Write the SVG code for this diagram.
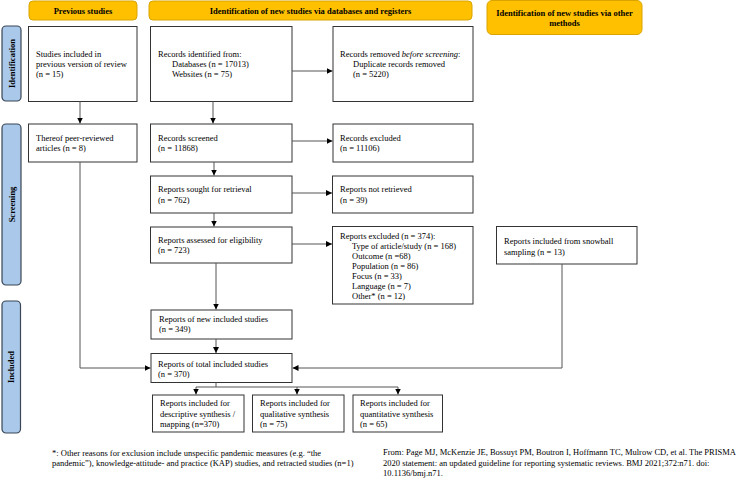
<svg xmlns="http://www.w3.org/2000/svg" width="737" height="478" viewBox="0 0 737 478">
<defs>
<marker id="ah" markerUnits="userSpaceOnUse" markerWidth="6" markerHeight="6" viewBox="0 0 6 6" refX="6" refY="3" orient="auto">
<path d="M0,0 L6,3 L0,6 Z" fill="#000"/>
</marker>
<style>
text{font-family:"Liberation Serif","Times New Roman",serif;font-size:8.5px;fill:#000}
.hd{font-weight:bold;text-anchor:middle}
.hdbox{fill:#FFC000;stroke:#D9A400;stroke-width:1}
.side{fill:#A9C8EA;stroke:#3A4654;stroke-width:1.2}
.sl{font-weight:bold;text-anchor:middle}
.box{fill:#fff;stroke:#333;stroke-width:1}
.con{fill:none;stroke:#555;stroke-width:1}
.arr{marker-end:url(#ah)}
</style>
</defs>
<rect width="737" height="478" fill="#fff"/>

<g id="hdr-prev"><rect class="hdbox" x="29" y="1" width="108" height="19" rx="4"/><text class="hd" x="83" y="14">Previous studies</text></g>
<g id="hdr-db"><rect class="hdbox" x="149" y="1" width="323" height="19" rx="4"/><text class="hd" x="310.5" y="14">Identification of new studies via databases and registers</text></g>
<g id="hdr-other"><rect class="hdbox" x="487" y="0.5" width="155" height="34" rx="5"/><text class="hd" x="564.5" y="16">Identification of new studies via other</text><text class="hd" x="564.5" y="26">methods</text></g>

<g id="side-ident"><rect class="side" x="2" y="26" width="19" height="75" rx="4"/><text class="sl" transform="translate(14.5,63.5) rotate(-90)">Identification</text></g>
<g id="side-screen"><rect class="side" x="2" y="124" width="19" height="161" rx="4"/><text class="sl" transform="translate(14.5,204.5) rotate(-90)">Screening</text></g>
<g id="side-incl"><rect class="side" x="2" y="301" width="18.5" height="132" rx="4"/><text class="sl" transform="translate(14.3,367) rotate(-90)">Included</text></g>

<g id="n-prev"><rect class="box" x="28.5" y="26.5" width="108.5" height="75"/><text x="36" y="57">Studies included in</text><text x="36" y="67">previous version of review</text><text x="36" y="77">(n = 15)</text></g>
<g id="n-ident"><rect class="box" x="150.5" y="26.5" width="141.5" height="75"/><text x="158" y="57">Records identified from:</text><text x="172" y="67">Databases (n = 17013)</text><text x="172" y="77">Websites (n = 75)</text></g>
<g id="n-removed"><rect class="box" x="333" y="26.5" width="140" height="75"/><text x="340" y="57">Records removed <tspan font-style="italic">before screening</tspan>:</text><text x="353" y="67">Duplicate records removed</text><text x="353" y="77">(n = 5220)</text></g>

<g id="n-thereof"><rect class="box" x="28.5" y="124" width="108.5" height="38"/><text x="36" y="141">Thereof peer-reviewed</text><text x="36" y="151">articles (n = 8)</text></g>
<g id="n-screened"><rect class="box" x="150.5" y="124" width="141.5" height="38"/><text x="158" y="141">Records screened</text><text x="158" y="151">(n = 11868)</text></g>
<g id="n-excluded"><rect class="box" x="333" y="124" width="140" height="38"/><text x="340" y="141">Records excluded</text><text x="340" y="151">(n = 11106)</text></g>

<g id="n-sought"><rect class="box" x="150.5" y="176" width="141.5" height="37"/><text x="158" y="192">Reports sought for retrieval</text><text x="158" y="203">(n = 762)</text></g>
<g id="n-notret"><rect class="box" x="332.5" y="176" width="140.5" height="37"/><text x="340" y="192">Reports not retrieved</text><text x="340" y="203">(n = 39)</text></g>

<g id="n-assessed"><rect class="box" x="150.5" y="227" width="141.5" height="36"/><text x="158" y="243">Reports assessed for eligibility</text><text x="158" y="253">(n = 723)</text></g>
<g id="n-repexcl"><rect class="box" x="332.5" y="226.5" width="140.5" height="77.5"/><text x="340" y="239">Reports excluded (n = 374):</text><text x="352" y="249">Type of article/study (n = 168)</text><text x="352" y="259">Outcome (n =68)</text><text x="352" y="269">Population (n = 86)</text><text x="352" y="279">Focus (n = 33)</text><text x="352" y="289">Language (n = 7)</text><text x="352" y="298.5">Other* (n = 12)</text></g>
<g id="n-snowball"><rect class="box" x="496.5" y="226.5" width="140.5" height="37.5"/><text x="504" y="244">Reports included from snowball</text><text x="504" y="255">sampling (n = 13)</text></g>

<g id="n-new"><rect class="box" x="151" y="310" width="141" height="29"/><text x="159" y="322">Reports of new included studies</text><text x="159" y="332">(n = 349)</text></g>
<g id="n-total"><rect class="box" x="151" y="353.5" width="141" height="29"/><text x="158" y="367">Reports of total included studies</text><text x="158" y="377">(n = 370)</text></g>

<g id="n-desc"><rect class="box" x="152.5" y="395" width="91.5" height="37"/><text x="160" y="406">Reports included for</text><text x="160" y="416.5">descriptive synthesis /</text><text x="160" y="427">mapping (n=370)</text></g>
<g id="n-qual"><rect class="box" x="252.5" y="395" width="91.5" height="37"/><text x="260" y="406">Reports included for</text><text x="260" y="416.5">qualitative synthesis</text><text x="260" y="427">(n = 75)</text></g>
<g id="n-quant"><rect class="box" x="353" y="395" width="89.5" height="37"/><text x="360" y="406">Reports included for</text><text x="360" y="416.5">quantitative synthesis</text><text x="360" y="427">(n = 65)</text></g>

<g id="connectors">
<path class="con arr" d="M80,101.5 V123.5"/>
<path class="con arr" d="M213,101.5 V123.5"/>
<path class="con arr" d="M292,71 H332.5"/>
<path class="con arr" d="M292,141 H332.5"/>
<path class="con arr" d="M214,162 V175.5"/>
<path class="con arr" d="M292,193 H332"/>
<path class="con arr" d="M214,213 V226.5"/>
<path class="con arr" d="M292,244 H332"/>
<path class="con arr" d="M216,263 V309.5"/>
<path class="con arr" d="M216,339 V353"/>
<path class="con arr" d="M80,162 V368 H150.5"/>
<path class="con arr" d="M562,264 V368 H292.5"/>
<path class="con" d="M216,382.5 V387 M196,387 H398"/>
<path class="con arr" d="M196,387 V394.5"/>
<path class="con arr" d="M297,387 V394.5"/>
<path class="con arr" d="M398,387 V394.5"/>
</g>

<g id="footnote-left"><text x="52" y="456">*: Other reasons for exclusion include unspecific pandemic measures (e.g. “the</text><text x="52" y="466">pandemic”), knowledge-attitude- and practice (KAP) studies, and retracted studies (n=1)</text></g>
<g id="footnote-right"><text x="383" y="455">From: Page MJ, McKenzie JE, Bossuyt PM, Boutron I, Hoffmann TC, Mulrow CD, et al. The PRISMA</text><text x="383" y="466">2020 statement: an updated guideline for reporting systematic reviews. BMJ 2021;372:n71. doi:</text><text x="383" y="476">10.1136/bmj.n71.</text></g>
</svg>
